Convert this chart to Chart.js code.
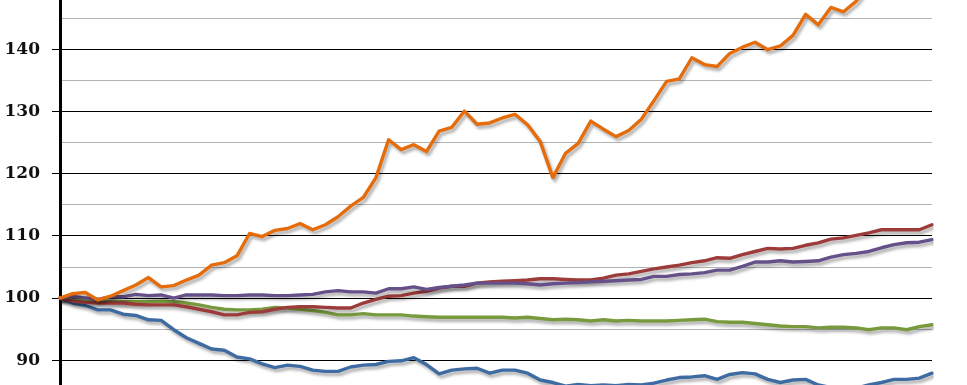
<!DOCTYPE html>
<html>
<head>
<meta charset="utf-8">
<script src="https://cdn.jsdelivr.net/npm/chart.js@4/dist/chart.umd.min.js"></script>
<style>
	html, body { margin: 0; padding: 0; background: #fff; }
	#wrap { width: 967px; height: 385px; position: relative; }
</style>
</head>
<body>
<div id="wrap"><canvas id="canvas"></canvas></div>
<script>
// quarters, index 100 at the start
var quarters = [];
for (var y = 1997; quarters.length < 70; y++) {
	for (var q = 1; q <= 4 && quarters.length < 70; q++) {
		quarters.push('Q' + q + ' ' + y);
	}
}

var orangeSeries = [100, 100.7, 100.9, 99.7, 100.3, 101.2, 102.1, 103.3, 101.8, 102.0,
	102.9, 103.7, 105.3, 105.7, 106.8, 110.4, 109.9, 110.9, 111.2, 112.0,
	111.0, 111.8, 113.1, 114.8, 116.2, 119.4, 125.5, 123.9, 124.7, 123.6,
	126.9, 127.5, 130.1, 128.0, 128.2, 129.0, 129.6, 127.9, 125.2, 119.4,
	123.3, 124.9, 128.5, 127.2, 126.0, 127.0, 128.8, 131.8, 134.9, 135.3,
	138.7, 137.6, 137.3, 139.4, 140.4, 141.2, 140.0, 140.6, 142.3, 145.7,
	144.0, 146.8, 146.1, 147.8, 150.5, 151.5, 153.0, 152.5, 154.0, 155.0];

var redSeries = [100, 99.5, 99.3, 99.2, 99.2, 99.2, 99.0, 98.9, 98.9, 98.9,
	98.6, 98.2, 97.8, 97.3, 97.3, 97.7, 97.8, 98.2, 98.5, 98.6,
	98.6, 98.5, 98.4, 98.4, 99.2, 99.8, 100.3, 100.4, 100.8, 101.1,
	101.6, 101.9, 101.9, 102.4, 102.6, 102.7, 102.8, 102.9, 103.1, 103.1,
	103.0, 102.9, 102.9, 103.2, 103.7, 103.9, 104.3, 104.7, 105.0, 105.3,
	105.7, 106.0, 106.5, 106.4, 107.0, 107.5, 108.0, 107.9, 108.0, 108.5,
	108.9, 109.5, 109.7, 110.1, 110.5, 111.0, 111.0, 111.0, 111.0, 111.8];

var purpleSeries = [100, 100.3, 100.0, 99.8, 100.2, 100.2, 100.6, 100.4, 100.5, 100.0,
	100.5, 100.5, 100.5, 100.4, 100.4, 100.5, 100.5, 100.4, 100.4, 100.5,
	100.6, 101.0, 101.2, 101.0, 101.0, 100.8, 101.5, 101.5, 101.8, 101.4,
	101.7, 101.9, 102.1, 102.4, 102.4, 102.4, 102.4, 102.3, 102.1, 102.3,
	102.4, 102.5, 102.6, 102.7, 102.8, 102.9, 103.0, 103.5, 103.5, 103.8,
	103.9, 104.1, 104.5, 104.5, 105.1, 105.8, 105.8, 106.0, 105.8, 105.9,
	106.0, 106.6, 107.0, 107.2, 107.5, 108.1, 108.6, 108.9, 109.0, 109.4];

var greenSeries = [100, 99.7, 99.6, 99.5, 99.5, 99.4, 99.4, 99.4, 99.5, 99.4,
	99.2, 98.9, 98.5, 98.2, 98.1, 98.1, 98.2, 98.5, 98.4, 98.2,
	98.0, 97.7, 97.3, 97.3, 97.5, 97.3, 97.3, 97.3, 97.1, 97.0,
	96.9, 96.9, 96.9, 96.9, 96.9, 96.9, 96.8, 96.9, 96.7, 96.5,
	96.6, 96.5, 96.3, 96.5, 96.3, 96.4, 96.3, 96.3, 96.3, 96.4,
	96.5, 96.6, 96.2, 96.1, 96.1, 95.9, 95.7, 95.5, 95.4, 95.4,
	95.2, 95.3, 95.3, 95.2, 94.9, 95.2, 95.2, 94.9, 95.4, 95.7];

var blueSeries = [100, 99.2, 98.8, 98.1, 98.1, 97.4, 97.2, 96.5, 96.4, 94.9,
	93.6, 92.7, 91.8, 91.6, 90.5, 90.2, 89.4, 88.8, 89.2, 89.0,
	88.4, 88.2, 88.2, 88.9, 89.2, 89.3, 89.8, 89.9, 90.4, 89.3,
	87.8, 88.4, 88.6, 88.7, 87.9, 88.4, 88.4, 87.9, 86.8, 86.4,
	85.8, 86.1, 85.9, 86.0, 85.9, 86.1, 86.0, 86.3, 86.8, 87.2,
	87.3, 87.5, 86.9, 87.7, 88.0, 87.8, 86.9, 86.4, 86.8, 86.9,
	86.0, 85.6, 85.4, 85.5, 86.0, 86.4, 86.9, 86.9, 87.1, 87.9];

var yTicks = [90, 95, 100, 105, 110, 115, 120, 125, 130, 135, 140, 145];

// grey drop shadow under each line, like the old spreadsheet look
var lineShadow = {
	id: 'lineShadow',
	beforeDatasetDraw: function(chart) {
		var c = chart.ctx;
		c.save();
		c.shadowColor = 'rgba(0,0,0,0.32)';
		c.shadowBlur = 3;
		c.shadowOffsetX = 2;
		c.shadowOffsetY = 3;
	},
	afterDatasetDraw: function(chart) {
		chart.ctx.restore();
	}
};

function makeLine(data, colour) {
	return {
		data: data,
		borderColor: colour,
		borderWidth: 3.4,
		borderJoinStyle: 'round',
		borderCapStyle: 'round',
		pointRadius: 0,
		tension: 0,
		fill: false
	};
}

var ctx = document.getElementById('canvas');

new Chart(ctx, {
	type: 'line',
	data: {
		labels: quarters,
		datasets: [
			makeLine(orangeSeries, '#E46C0A'),
			makeLine(purpleSeries, '#65508A'),
			makeLine(redSeries, '#9C3B3A'),
			makeLine(greenSeries, '#789A3C'),
			makeLine(blueSeries, '#3D6BA2')
		]
	},
	options: {
		responsive: true,
		maintainAspectRatio: false,
		animation: false,
		layout: { autoPadding: false, padding: { left: 0, right: 35, top: 0, bottom: 0 } },
		plugins: {
			legend: { display: false },
			tooltip: { enabled: false }
		},
		scales: {
			x: {
				display: false,
				offset: false
			},
			y: {
				min: 86,
				max: 148,
				afterBuildTicks: function(scale) {
					scale.ticks = yTicks.map(function(v) { return { value: v }; });
				},
				afterFit: function(scale) {
					scale.width = 60;
					scale.paddingTop = 0;
					scale.paddingBottom = 0;
				},
				border: { display: true, color: '#000', width: 3 },
				grid: {
					color: function(c) {
						return c.tick && c.tick.value % 10 === 0 ? '#000' : '#b4b4b4';
					},
					tickColor: function(c) {
						return c.tick && c.tick.value % 10 === 0 ? '#000' : 'rgba(0,0,0,0)';
					},
					lineWidth: 1,
					tickLength: 8,
					drawTicks: true
				},
				ticks: {
					padding: 12,
					color: '#111',
					font: { family: 'DejaVu Serif', size: 17, weight: 'bold' },
					callback: function(v) {
						return v % 10 === 0 ? v : '';
					}
				}
			}
		}
	},
	plugins: [lineShadow]
});
</script>
</body>
</html>
